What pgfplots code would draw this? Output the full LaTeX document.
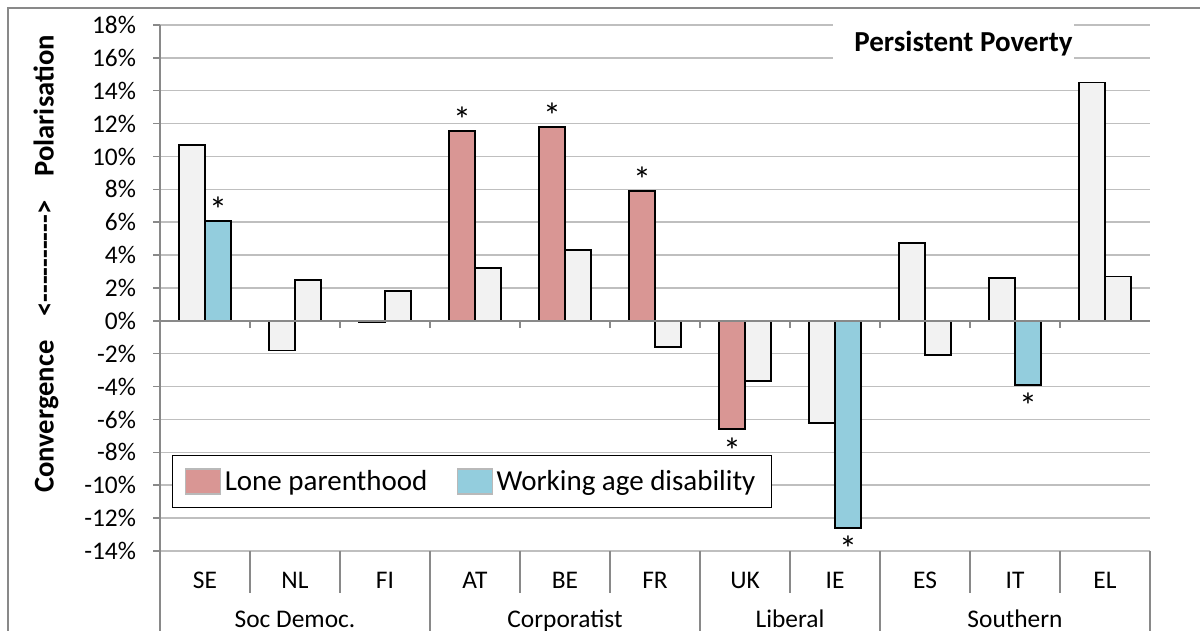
\documentclass[border=0pt]{standalone}
\usepackage{fontspec}
\setmainfont{Carlito}
\usepackage{pgfplots}
\pgfplotsset{compat=1.18}
\definecolor{gbar}{HTML}{F2F2F2}
\definecolor{pbar}{HTML}{D99694}
\definecolor{bbar}{HTML}{93CDDD}
\definecolor{gridc}{HTML}{BFBFBF}
\definecolor{axc}{HTML}{898989}
\newcommand{\tickfont}{\fontsize{12.7}{15}\selectfont}
\newcommand{\starfont}{\fontsize{18}{20}\selectfont}
\begin{document}
\begin{tikzpicture}
\draw[axc, line width=0.75pt] (4pt,-20pt) -- (4pt,311.5pt) -- (620pt,311.5pt);
\begin{axis}[
  at={(80pt,40pt)}, anchor=south west,
  scale only axis, width=495pt, height=263pt,
  xmin=-0.5, xmax=10.5, ymin=-14, ymax=18,
  clip=false,
  axis y line*=left, axis x line*=bottom,
  x axis line style={draw=gridc, line width=0.75pt, -},
  y axis line style={draw=axc, line width=0.75pt, -},
  ytick={-14,-12,...,18},
  ymajorgrids, grid style={draw=gridc, line width=0.75pt},
  tick align=outside, major tick length=3.5pt,
  ytick style={draw=axc, line width=0.75pt},
  xtick={0,...,10}, xticklabels={SE,NL,FI,AT,BE,FR,UK,IE,ES,IT,EL},
  xtick style={draw=none},
  xticklabel style={anchor=center, yshift=-11pt},
  yticklabel style={anchor=east, xshift=-5pt},
  yticklabel={\pgfmathprintnumber{\tick}\%},
  /pgf/number format/assume math mode=true,
  tick label style={font=\tickfont},
  legend style={at={(0.0121,0.0817)}, anchor=south west, draw=black, line width=0.6pt,
    font=\fontsize{14.5}{17}\selectfont, inner xsep=6pt, inner ysep=5.2pt,
    /tikz/every even column/.append style={column sep=12.5pt}},
  legend columns=2, legend cell align=left,
]
% Lone parenthood, not significant
\addplot[ybar, bar width=0.289, bar shift=-0.1445, fill=gbar, draw=black, line width=0.9pt, forget plot]
  coordinates {(0,10.7) (1,-1.8) (2,-0.08) (7,-6.2) (8,4.75) (9,2.6) (10,14.5)};
% Lone parenthood, significant
\addplot[ybar, bar width=0.289, bar shift=-0.1445, fill=pbar, draw=black, line width=0.9pt,
  legend image code/.code={\draw[fill=pbar, draw=gray!55, line width=0.6pt] (0pt,-6.25pt) rectangle (17.5pt,6.25pt);}]
  coordinates {(3,11.55) (4,11.8) (5,7.9) (6,-6.6)};
\addlegendentry{Lone parenthood}
% Working age disability, not significant
\addplot[ybar, bar width=0.289, bar shift=0.1445, fill=gbar, draw=black, line width=0.9pt, forget plot]
  coordinates {(1,2.5) (2,1.8) (3,3.2) (4,4.3) (5,-1.6) (6,-3.65) (8,-2.1) (10,2.7)};
% Working age disability, significant
\addplot[ybar, bar width=0.289, bar shift=0.1445, fill=bbar, draw=black, line width=0.9pt,
  legend image code/.code={\draw[fill=bbar, draw=gray!55, line width=0.6pt] (0pt,-6.25pt) rectangle (17.5pt,6.25pt);}]
  coordinates {(0,6.1) (7,-12.6) (9,-3.9)};
\addlegendentry{Working age disability\hspace{5pt}}
% significance asterisks
\addplot[only marks, mark=none, forget plot, nodes near coords={*},
  every node near coord/.append style={anchor=center, yshift=5.5pt, font=\starfont}]
  coordinates {(0.1445,6.1) (2.8555,11.55) (3.8555,11.8) (4.8555,7.9)};
\addplot[only marks, mark=none, forget plot, nodes near coords={*},
  every node near coord/.append style={anchor=center, yshift=-10.5pt, font=\starfont}]
  coordinates {(5.8555,-6.6) (7.1445,-12.6) (9.1445,-3.9)};
% zero line with ticks
\draw[axc, line width=0.75pt] (axis cs:-0.5,0) -- (axis cs:10.5,0);
\pgfplotsinvokeforeach{0.5,1.5,...,9.5}{\draw[axc, line width=0.75pt] (axis cs:#1,0) -- ++(0pt,-3.5pt);}
% category table separators
\pgfplotsinvokeforeach{0.5,1.5,3.5,4.5,6.5,8.5,9.5}{\draw[axc, line width=0.75pt] (axis cs:#1,-14) -- ++(0pt,-21pt);}
\pgfplotsinvokeforeach{-0.5,2.5,5.5,7.5,10.5}{\draw[axc, line width=0.75pt] (axis cs:#1,-14) -- ++(0pt,-50pt);}
\node[anchor=base, yshift=-38.5pt, font=\tickfont] at (axis cs:1,-14) {Soc Democ.};
\node[anchor=base, yshift=-38.5pt, font=\tickfont] at (axis cs:4,-14) {Corporatist};
\node[anchor=base, yshift=-38.5pt, font=\tickfont] at (axis cs:6.5,-14) {Liberal};
\node[anchor=base, yshift=-38.5pt, font=\tickfont] at (axis cs:9,-14) {Southern};
% title
\fill[white] (axis cs:6.978,18.7) rectangle (axis cs:9.656,15.4);
\node[anchor=base, font=\bfseries\fontsize{14.5}{17}\selectfont] at (axis cs:8.428,16.38) {Persistent Poverty};
\end{axis}
\node[rotate=90, font=\bfseries\fontsize{14.3}{17}\selectfont] at (23pt,183.5pt)
  {Convergence\hspace{12pt}<{-}{-}{-}{-}{-}{-}{-}{-}{-}{-}>\hspace{12pt}Polarisation};
\pgfresetboundingbox
\useasboundingbox (0pt,0pt) rectangle (600pt,315.5pt);
\end{tikzpicture}
\end{document}
